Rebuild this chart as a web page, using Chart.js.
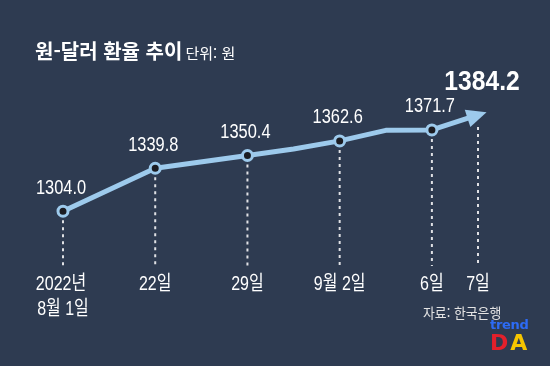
<!DOCTYPE html>
<html lang="ko">
<head>
<meta charset="utf-8">
<script src="https://cdn.jsdelivr.net/npm/chart.js@4.4.1/dist/chart.umd.min.js"></script>
<style>
  html, body { margin: 0; padding: 0; background: #2e3b51; }
  #wrap { position: relative; width: 550px; height: 366px; overflow: hidden; background: #2e3b51; }
  #chart { position: absolute; left: 0; top: 0; }
  .title {
    position: absolute; left: 35px; top: 36px; color: #fff; white-space: nowrap;
    font-family: "Noto Sans CJK KR", sans-serif; font-size: 20px; font-weight: 700;
  }
  .title span { font-size: 15px; font-weight: 400; margin-left: 3px; }
  .source {
    position: absolute; left: 423px; top: 302px; color: #e4e4e4; white-space: nowrap;
    font-family: "Noto Sans CJK KR", sans-serif; font-size: 14px;
    transform: scaleX(0.92); transform-origin: left top;
  }
  .logo { position: absolute; left: 490px; top: 318px; font-family: "DejaVu Sans", sans-serif; font-weight: 700; }
  .logo .t { color: #2d6bf5; font-size: 13px; line-height: 14px; letter-spacing: -0.3px; }
  .logo .d { font-size: 22px; line-height: 22px; letter-spacing: 2px; }
</style>
</head>
<body>
<div id="wrap">
  <canvas id="chart" width="550" height="366"></canvas>
  <div class="title">원-달러 환율 추이<span>단위: 원</span></div>
  <div class="source">자료: 한국은행</div>
  <div class="logo">
    <div class="t">trend</div>
    <div class="d"><span style="color:#e3202b">D</span><span style="color:#f6c500">A</span></div>
  </div>
</div>
<script>
// Dollar-won exchange rate, Aug 1 - Sep 7 2022

const dates = [['2022년', '8월 1일'], '22일', '29일', null, '9월 2일', null, '6일', '7일'];
const xPos = [0, 1, 2, 2.5, 3, 3.5, 4, 4.5];
const rates = [1304.0, 1339.8, 1350.4, 1355.9, 1362.6, 1371.4, 1371.7, 1384.2];
const valueLabels = ['1304.0', '1339.8', '1350.4', null, '1362.6', null, '1371.7', '1384.2'];

const lineColor = '#9dcaec';
const sans = '"Liberation Sans", "Noto Sans CJK KR", sans-serif';

// condensed text, the original uses a narrow gothic face
function narrowText(ctx, txt, x, y, sx) {
    ctx.save();
    ctx.translate(x, y);
    ctx.scale(sx, 1);
    ctx.fillText(txt, 0, 0);
    ctx.restore();
}

const markPlugin = {
    id: 'marks',
    beforeDatasetsDraw(chart) {
        const ctx = chart.ctx;
        const pts = chart.getDatasetMeta(0).data;
        ctx.save();
        ctx.strokeStyle = 'rgba(255,255,255,0.85)';
        ctx.lineWidth = 2;
        ctx.setLineDash([3, 4]);
        dates.forEach((d, i) => {
            if (!d) return;
            const p = pts[i];
            const last = i === pts.length - 1;
            ctx.beginPath();
            ctx.moveTo(p.x, p.y + (last ? 12 : 9));
            ctx.lineTo(p.x, 266);
            ctx.stroke();
        });
        ctx.restore();
    },
    afterDatasetsDraw(chart) {
        const ctx = chart.ctx;
        const pts = chart.getDatasetMeta(0).data;
        const a = pts[pts.length - 2];
        const b = pts[pts.length - 1];

        // arrow head at the last point
        ctx.save();
        ctx.translate(b.x, b.y);
        ctx.rotate(Math.atan2(b.y - a.y, b.x - a.x));
        ctx.fillStyle = lineColor;
        ctx.beginPath();
        ctx.moveTo(9, 0);
        ctx.lineTo(-11, -9);
        ctx.lineTo(-11, 9);
        ctx.closePath();
        ctx.fill();
        ctx.restore();

        ctx.save();
        ctx.fillStyle = '#ffffff';
        ctx.textAlign = 'center';
        ctx.textBaseline = 'middle';

        // value labels
        valueLabels.forEach((txt, i) => {
            if (!txt) return;
            const p = pts[i];
            if (i === pts.length - 1) {
                ctx.font = 'bold 28px ' + sans;
                narrowText(ctx, txt, p.x + 4, p.y - 33, 0.88);
            } else {
                ctx.font = '20px ' + sans;
                narrowText(ctx, txt, p.x - 2, p.y - 23, 0.82);
            }
        });

        // date labels under the dashed lines
        const xs = chart.scales.x;
        ctx.font = '20px ' + sans;
        dates.forEach((d, i) => {
            if (!d) return;
            const x = xs.getPixelForValue(xPos[i]);
            const lines = Array.isArray(d) ? d : [d];
            lines.forEach((t, k) => narrowText(ctx, t, x - (k === 0 && lines.length > 1 ? 2 : 0), 284 + k * 25, 0.8));
        });
        ctx.restore();
    }
};

new Chart(document.getElementById('chart'), {
    type: 'line',
    data: {
        datasets: [{
            data: xPos.map((x, i) => ({ x: x, y: rates[i] })),
            borderColor: lineColor,
            borderWidth: 5,
            borderJoinStyle: 'round',
            tension: 0,
            clip: false,
            pointRadius: ctx => (valueLabels[ctx.dataIndex] && ctx.dataIndex < rates.length - 1) ? 5 : 0,
            pointBorderWidth: 3,
            pointBorderColor: lineColor,
            pointBackgroundColor: '#1b1c22'
        }]
    },
    options: {
        responsive: false,
        animation: false,
        layout: { padding: { top: 96, left: 63, right: 72, bottom: 114 } },
        plugins: {
            legend: { display: false },
            tooltip: { enabled: false }
        },
        scales: {
            x: { type: 'linear', display: false, min: 0, max: 4.5 },
            y: { display: false, min: 1270, max: 1400 }
        }
    },
    plugins: [markPlugin]
});
</script>
</body>
</html>
